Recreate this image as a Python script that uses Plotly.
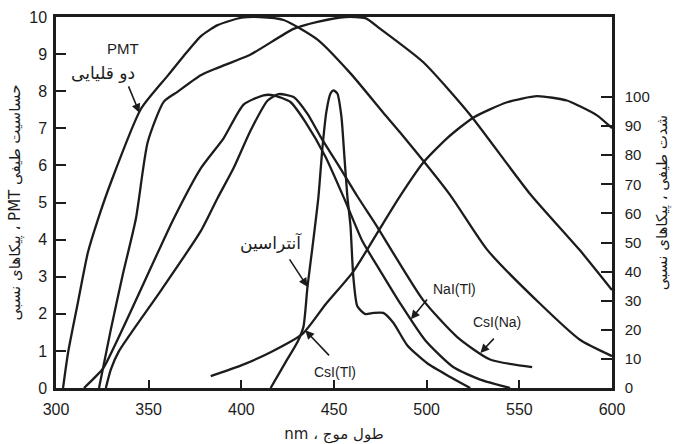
import numpy as np
import plotly.graph_objects as go

# ---- PMT spectral sensitivity (left axis, 0-10) ----
pmt_bialkali_nm = [303.8, 306.5, 311.8, 317.2, 322.6, 329.6, 345.8, 360.3, 368.9, 378.1,
                   387.2, 400.0, 410.0, 422.8, 441.1, 458.9, 476.6, 485.8, 512.7, 532.6,
                   561.2, 582.7, 600.0]
pmt_bialkali_val = [0.0, 0.95, 2.30, 3.65, 4.54, 5.54, 7.52, 8.42, 8.95, 9.48,
                    9.78, 9.98, 10.0, 9.92, 9.39, 8.48, 7.42, 6.88, 5.20, 3.73,
                    2.27, 1.30, 0.86]

pmt_second_nm = [323.2, 329.6, 336.1, 343.1, 349.5, 358.2, 365.7, 378.1, 387.2, 405.0,
                 428.2, 441.1, 456.2, 466.9, 475.0, 498.2, 523.5, 555.8, 582.7, 600.0]
pmt_second_val = [0.0, 1.58, 3.07, 4.56, 6.63, 7.72, 7.99, 8.43, 8.63, 8.99,
                  9.68, 9.87, 10.0, 9.97, 9.68, 8.78, 7.36, 5.23, 3.71, 2.64]

# ---- scintillator emission, relative intensity (right axis, %) ----
nai_nm = [315.1, 321.5, 325.8, 363.5, 378.1, 390.5, 401.2, 412.0, 417.4, 426.5,
          434.6, 445.4, 456.2, 465.3, 475.0, 485.8, 499.2, 514.3, 528.9, 545.0]
nai_val = [0.0, 4.0, 7.1, 58.2, 75.5, 85.9, 97.4, 100.6, 100.6, 98.3,
           91.4, 79.5, 64.1, 50.5, 40.2, 29.0, 16.4, 7.2, 2.9, 0.0]

csina_nm = [326.9, 329.6, 333.9, 356.5, 378.1, 387.2, 395.9, 405.0, 414.2, 420.1,
            428.2, 435.7, 442.7, 453.5, 462.6, 473.4, 480.4, 498.2, 516.5, 534.2, 556.9]
csina_val = [0.0, 6.4, 12.6, 33.4, 53.9, 65.3, 75.7, 88.5, 98.8, 101.0,
             100.0, 94.2, 86.4, 75.4, 65.9, 55.3, 48.0, 30.1, 17.5, 9.8, 7.2]

anthracene_nm = [415.8, 423.9, 430.3, 433.5, 435.7, 438.4, 441.6, 443.8, 445.9, 448.1,
                 449.7, 451.8, 454.0, 455.6, 457.2, 458.9, 459.9, 460.5, 462.6, 466.9,
                 471.3, 476.6, 482.0, 489.6, 500.3, 512.7, 523.5]
anthracene_val = [0.0, 8.9, 15.8, 21.0, 34.8, 48.5, 65.7, 82.9, 95.0, 101.2,
                  102.3, 101.2, 93.3, 79.6, 65.9, 55.6, 43.5, 37.7, 28.1, 25.4,
                  25.8, 25.8, 22.4, 14.6, 8.5, 3.8, 0.0]

csitl_nm = [383.5, 399.6, 415.8, 433.0, 445.4, 460.5, 472.3, 485.8, 498.2, 511.1,
            525.1, 543.4, 559.6, 575.7, 582.7, 591.9, 600.0]
csitl_val = [4.1, 7.7, 12.3, 18.6, 28.7, 40.1, 52.2, 66.1, 77.5, 85.9,
             92.9, 98.2, 100.3, 98.8, 96.8, 93.7, 89.3]

x_ticks = [300, 350, 400, 450, 500, 550, 600]
left_ticks = list(range(0, 11))
right_ticks = list(range(0, 101, 10))

INK = "#1c1c1c"
LATIN = "Liberation Sans, Arial, DejaVu Sans, sans-serif"
PERSIAN = "DejaVu Sans, Liberation Sans, sans-serif"
RLE, PDF = "\u202B", "\u202C"


def rtl(s):
    return RLE + s + PDF


fig = go.Figure()

curve_style = dict(mode="lines", line=dict(color=INK, width=2.3, shape="spline", smoothing=0.6),
                   hoverinfo="skip", showlegend=False)

fig.add_trace(go.Scatter(x=pmt_bialkali_nm, y=pmt_bialkali_val, yaxis="y", name="PMT bialkali", **curve_style))
fig.add_trace(go.Scatter(x=pmt_second_nm, y=pmt_second_val, yaxis="y", name="PMT", **curve_style))
fig.add_trace(go.Scatter(x=nai_nm, y=nai_val, yaxis="y2", name="NaI(Tl)", **curve_style))
fig.add_trace(go.Scatter(x=csina_nm, y=csina_val, yaxis="y2", name="CsI(Na)", **curve_style))
fig.add_trace(go.Scatter(x=anthracene_nm, y=anthracene_val, yaxis="y2", name="Anthracene", **curve_style))
fig.add_trace(go.Scatter(x=csitl_nm, y=csitl_val, yaxis="y2", name="CsI(Tl)", **curve_style))


def on_curve(xs, ys, w):
    return float(np.interp(w, xs, ys))


annotations = []


def pointer(xs, ys, w, tail_x, tail_y, yref):
    annotations.append(dict(
        x=w, y=on_curve(xs, ys, w), xref="x", yref=yref,
        ax=tail_x, ay=tail_y, axref="x", ayref=yref,
        text="", showarrow=True, arrowhead=2, arrowsize=1.1, arrowwidth=1.6,
        arrowcolor=INK, standoff=0, startstandoff=0))


def label(text, x, y, size=15, family=LATIN):
    annotations.append(dict(x=x, y=y, xref="x", yref="y", text=text, showarrow=False,
                            font=dict(family=family, size=size, color=INK)))


# labels and their pointers
label("PMT", 336.0, 9.16, size=15)
label(rtl("دو قلیایی"), 325.3, 8.49, size=17, family=PERSIAN)
pointer(pmt_bialkali_nm, pmt_bialkali_val, 345.0, 338.8, 8.17, "y")

label(rtl("آنتراسین"), 415.8, 3.91, size=17, family=PERSIAN)
pointer(anthracene_nm, anthracene_val, 435.7, 425.5, 44.7, "y2")

label("CsI(Tl)", 450.8, 0.42, size=14)
pointer(csitl_nm, csitl_val, 434.5, 448.1, 10.7, "y2")

label("NaI(Tl)", 514.9, 2.67, size=14)
pointer(nai_nm, nai_val, 491.5, 500.9, 30.9, "y2")

label("CsI(Na)", 538.0, 1.78, size=14)
pointer(csina_nm, csina_val, 529.0, 537.0, 17.5, "y2")

fig.update_layout(
    width=681, height=444,
    margin=dict(l=56, r=69, t=17, b=56),
    paper_bgcolor="white", plot_bgcolor="white",
    showlegend=False,
    annotations=annotations,
    xaxis=dict(
        range=[300, 600], tickvals=x_ticks, ticktext=[str(v) for v in x_ticks],
        showline=True, linecolor=INK, linewidth=2.5, mirror=True,
        ticks="inside", ticklen=8, tickwidth=2, tickcolor=INK,
        showgrid=False, zeroline=False, automargin=False,
        tickfont=dict(family=LATIN, size=16, color=INK), ticklabelstandoff=5,
        title=dict(text=rtl("طول موج ، nm"), standoff=12,
                   font=dict(family=PERSIAN, size=15, color=INK)),
    ),
    yaxis=dict(
        range=[0, 10], tickvals=left_ticks,
        showline=True, linecolor=INK, linewidth=2.5,
        ticks="inside", ticklen=10, tickwidth=2, tickcolor=INK,
        showgrid=False, zeroline=False, automargin=False,
        tickfont=dict(family=LATIN, size=16, color=INK), ticklabelstandoff=3,
        title=dict(text=rtl("حساسیت طیفی PMT ، پیکاهای نسبی"), standoff=6,
                   font=dict(family=PERSIAN, size=15, color=INK)),
    ),
    yaxis2=dict(
        range=[0, 127.5], tickvals=right_ticks,
        overlaying="y", side="right", anchor="x",
        showline=True, linecolor=INK, linewidth=2.5,
        ticks="inside", ticklen=11, tickwidth=2, tickcolor=INK,
        showgrid=False, zeroline=False, automargin=False,
        tickfont=dict(family=LATIN, size=15, color=INK), ticklabelstandoff=7,
        title=dict(text=rtl("شدت طیفی ، پیکاهای نسبی"), standoff=8,
                   font=dict(family=PERSIAN, size=15, color=INK)),
    ),
)

fig.write_html("out.html")
